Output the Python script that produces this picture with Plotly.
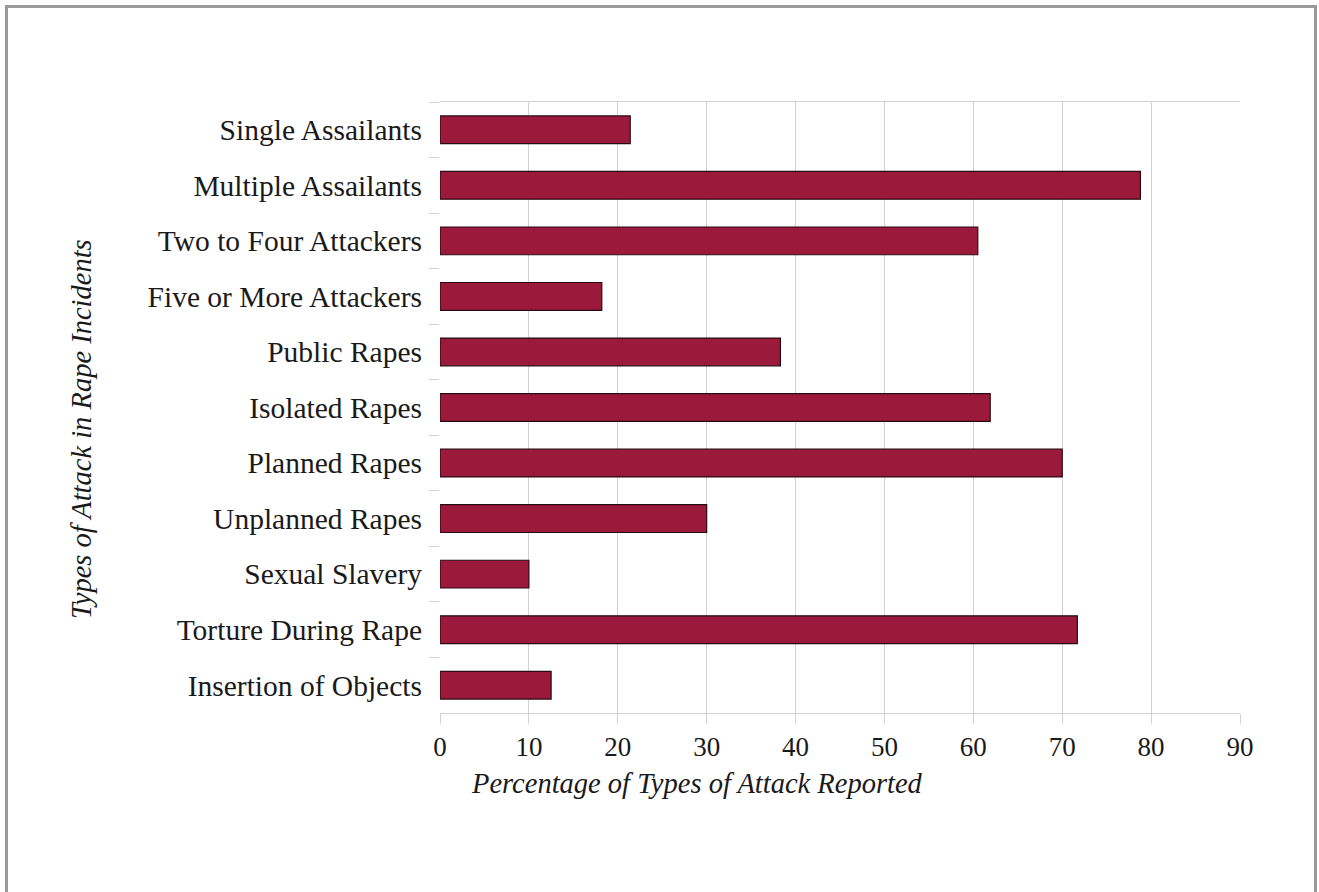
import plotly.graph_objects as go

categories = [
    "Single Assailants",
    "Multiple Assailants",
    "Two to Four Attackers",
    "Five or More Attackers",
    "Public Rapes",
    "Isolated Rapes",
    "Planned Rapes",
    "Unplanned Rapes",
    "Sexual Slavery",
    "Torture During Rape",
    "Insertion of Objects",
]
values = [21.4, 78.8, 60.5, 18.2, 38.3, 61.9, 70.0, 30.0, 10.0, 71.7, 12.5]
x_ticks = [0, 10, 20, 30, 40, 50, 60, 70, 80, 90]

x_title = "Percentage of Types of Attack Reported"
y_title = "Types of Attack in Rape Incidents"

W, H = 1319, 892
L, R, T, B = 440, 79, 102, 179
pw, ph = W - L - R, H - T - B

def px_x(p):
    return (p - L) / pw

def px_y(p):
    return (H - B - p) / ph

FONT = "Liberation Serif"
GRID = "#d2d2d2"

fig = go.Figure(
    go.Bar(
        x=values,
        y=categories,
        orientation="h",
        width=0.5,
        marker=dict(color="#9b1a3c", line=dict(color="#2a0b12", width=1.2)),
    )
)

fig.update_layout(
    width=W,
    height=H,
    margin=dict(l=L, r=R, t=T, b=B, autoexpand=False),
    paper_bgcolor="white",
    plot_bgcolor="white",
    showlegend=False,
    font=dict(family=FONT, size=28, color="#1a1a1a"),
    xaxis=dict(
        range=[0, 90],
        tickvals=x_ticks,
        ticktext=[str(v) for v in x_ticks],
        showgrid=True,
        gridcolor=GRID,
        gridwidth=1,
        zeroline=False,
        showline=True,
        linecolor=GRID,
        linewidth=1,
        mirror=True,
        ticks="outside",
        ticklen=10,
        tickcolor=GRID,
        tickfont=dict(family=FONT, size=27, color="#1a1a1a"),
    ),
    yaxis=dict(
        categoryorder="array",
        categoryarray=categories,
        autorange="reversed",
        showgrid=False,
        zeroline=False,
        showline=False,
        ticks="outside",
        tickson="boundaries",
        ticklen=10,
        tickcolor=GRID,
        ticklabelstandoff=17,
        tickfont=dict(family=FONT, size=29.5, color="#1a1a1a"),
    ),
    annotations=[
        dict(
            text=x_title,
            xref="paper",
            yref="paper",
            x=px_x(697),
            y=px_y(783),
            showarrow=False,
            xanchor="center",
            yanchor="middle",
            font=dict(family=FONT, size=28.5, color="#1a1a1a", style="italic"),
        ),
        dict(
            text=y_title,
            xref="paper",
            yref="paper",
            x=px_x(82),
            y=px_y(429),
            showarrow=False,
            textangle=-90,
            xanchor="center",
            yanchor="middle",
            font=dict(family=FONT, size=28.5, color="#1a1a1a", style="italic"),
        ),
    ],
    shapes=[
        dict(
            type="path",
            xref="paper",
            yref="paper",
            path=(
                f"M {px_x(6.5)},{px_y(900)} L {px_x(6.5)},{px_y(6.5)} "
                f"L {px_x(1315.5)},{px_y(6.5)} L {px_x(1315.5)},{px_y(900)}"
            ),
            line=dict(color="#9a9a9a", width=3),
        )
    ],
)

fig.write_html(
    "out.html",
    config={"displayModeBar": False},
    post_script="document.body.style.margin='0';document.body.style.overflow='hidden';",
)
